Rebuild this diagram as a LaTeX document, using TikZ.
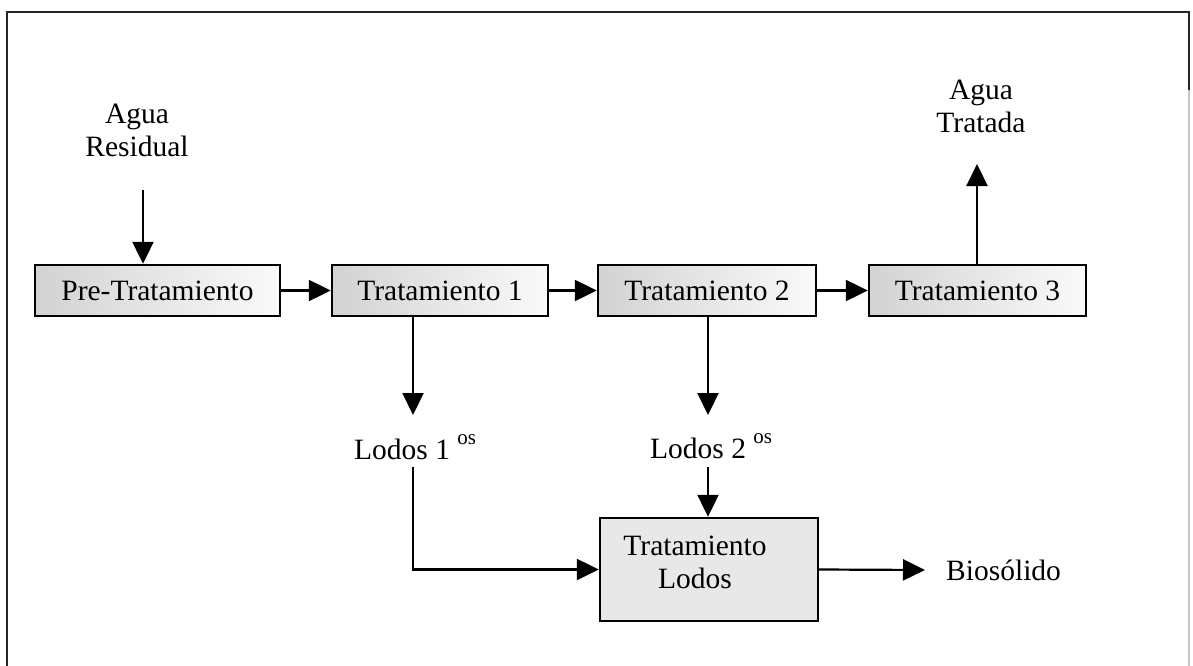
\documentclass[tikz,border=0pt]{standalone}
\usepackage{fontspec}
\setmainfont{Liberation Serif}
\usetikzlibrary{arrows.meta,calc}
\begin{document}
\begin{tikzpicture}[x=1pt,y=-1pt,
  txt/.style={inner sep=0pt, font=\fontsize{29.5}{33}\selectfont},
  procbox/.style={draw, line width=2.4pt, inner sep=0pt, minimum height=51pt,
    left color=gray!35, right color=gray!4, font=\fontsize{29.5}{33}\selectfont},
  arr/.style={line width=2.2pt, -{Triangle[length=22pt,width=21pt]}},
  frameline/.style={line width=2.2pt, black!85}
]
\useasboundingbox (0,0) rectangle (1193,666);
% frame
\draw[frameline] (7,666) -- (7,12) -- (1189,12) -- (1189,90);
\draw[line width=1.4pt, gray!45] (1189,90) -- (1189,666);

% process boxes
\node[procbox, minimum width=245pt] (pre) at (157.5,290.5) {Pre-Tratamiento};
\node[procbox, minimum width=216pt] (t1) at (440,290.5) {Tratamiento 1};
\node[procbox, minimum width=218pt] (t2) at (707,290.5) {Tratamiento 2};
\node[procbox, minimum width=217pt] (t3) at (977.5,290.5) {Tratamiento 3};
\node[draw, line width=2.4pt, fill=gray!18, minimum width=218pt, minimum height=103pt, inner sep=0pt] (tl) at (709,569.5) {};
\node[txt, align=center, anchor=base] (tltxt) at (695,588) {Tratamiento\\Lodos};

% texts
\node[txt, align=center, anchor=base] (ar) at (137,157) {Agua\\Residual};
\node[txt, align=center, anchor=base] (at) at (981,132) {Agua\\Tratada};
\node[txt, anchor=base west] (l1) at (354,459) {Lodos 1 \raisebox{15pt}{\fontsize{21}{21}\selectfont os}};
\node[txt, anchor=base west] (l2) at (650,458) {Lodos 2 \raisebox{15pt}{\fontsize{21}{21}\selectfont os}};
\node[txt, anchor=west, inner xsep=21pt] (bio) at (925,570) {Biosólido};

% coordinates
\coordinate (arS) at (143,190);
\coordinate (atE) at (977,164);
\coordinate (l1a) at (413,415);
\coordinate (l2a) at (708,415);
\coordinate (l1b) at (413,467);
\coordinate (l2b) at (708,467);

% connectors
\draw[arr] (arS) -- (arS |- pre.north);
\draw[arr] (pre) -- (t1);
\draw[arr] (t1) -- (t2);
\draw[arr] (t2) -- (t3);
\draw[arr] (t3.north -| atE) -- (atE);
\draw[arr] (t1.south -| l1a) -- (l1a);
\draw[arr] (t2.south -| l2a) -- (l2a);
\draw[arr] (l1b) |- (tl.west);
\draw[arr] (l2b) -- (l2b |- tl.north);
\draw[arr] (tl.east) -- (bio.west);
\end{tikzpicture}
\end{document}
